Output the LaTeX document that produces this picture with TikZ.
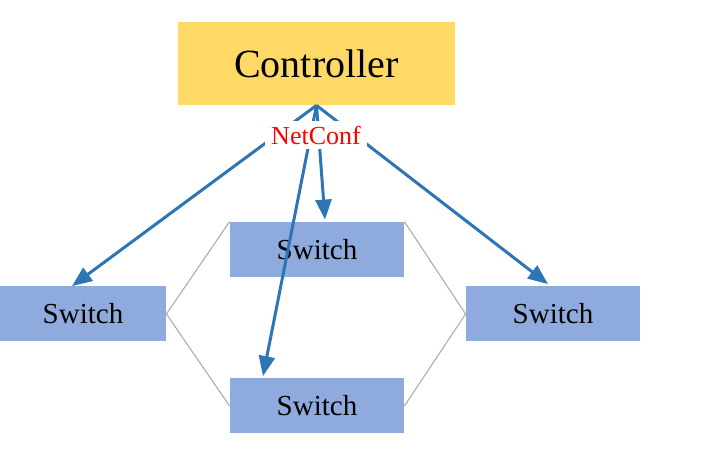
\documentclass[tikz,border=0pt]{standalone}
\usepackage{fontspec}
\setmainfont{Liberation Serif}
\usepackage{xcolor}
\usetikzlibrary{positioning,arrows.meta}

\definecolor{ctrlgold}{HTML}{FFD966}
\definecolor{switchblue}{HTML}{8FAADC}
\definecolor{linkblue}{HTML}{2E75B6}
\definecolor{meshgray}{HTML}{A6A6A6}

\begin{document}
\begin{tikzpicture}[x=0.5pt, y=-0.5pt,
  ctrlnode/.style={rectangle, fill=ctrlgold, minimum width=138.5pt, minimum height=41.5pt, inner sep=0pt, font=\fontsize{20}{24}\selectfont},
  switchnode/.style={rectangle, fill=switchblue, minimum width=87pt, minimum height=27.5pt, inner sep=0pt, font=\fontsize{14.5}{17}\selectfont},
  conflink/.style={draw=linkblue, line width=1.5pt, -{Triangle[length=10pt, width=8pt]}},
  meshlink/.style={draw=meshgray, line width=0.5pt}]

\useasboundingbox (0,0) rectangle (706,458);

\node[ctrlnode] at (316.5, 63.5) (ctrl) {Controller};
\node[switchnode, minimum width=83pt] at (83, 314) (swleft) {Switch};
\node[switchnode] at (317, 249.5) (swtop) {Switch};
\node[switchnode] at (317, 406) (swbot) {Switch};
\node[switchnode] at (553, 314) (swright) {Switch};

\draw[meshlink] (swleft.east) -- (swtop.north west);
\draw[meshlink] (swleft.east) -- (swbot.west);
\draw[meshlink] (swright.west) -- (swtop.north east);
\draw[meshlink] (swright.west) -- (swbot.east);

\draw[conflink] (ctrl.south) -- ([xshift=-5.5pt]swleft.north);
\draw[conflink] (ctrl.south) -- ([xshift=4pt, yshift=1pt]swtop.north);
\draw[conflink] (ctrl.south) -- ([xshift=-27pt, yshift=1pt]swbot.north);
\draw[conflink] (ctrl.south) -- ([xshift=-2.5pt, yshift=1pt]swright.north);

\node[fill=white, text=red, inner xsep=3pt, inner ysep=0pt, minimum height=14pt, font=\fontsize{13}{15}\selectfont] at (316, 135) (netconf) {NetConf};

\end{tikzpicture}
\end{document}
